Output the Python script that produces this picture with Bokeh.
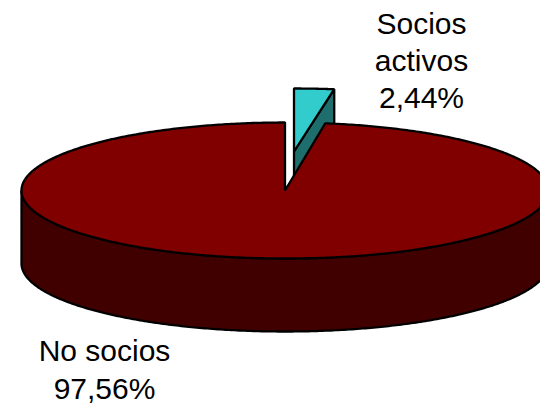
import numpy as np
from bokeh.embed import file_html
from bokeh.models import ColumnDataSource, Range1d
from bokeh.plotting import figure
from bokeh.resources import INLINE
from bokeh.core.properties import value

categories = ["Socios activos", "No socios"]
shares = [2.44, 97.56]
label_lines = [["Socios", "activos", "2,44%"], ["No socios", "97,56%"]]
label_x = [421, 104]
label_y = [[23, 60, 97], [350, 388]]

top_colors = ["#33CCCC", "#800000"]
side_colors = ["#1F6E6E", "#400000"]

CX, CY = 284.5, 190.0
RX, RY = 263.5, 68.0
DEPTH = 73.0
EXPL_CX, EXPL_CY, EXPL_RY = 293.5, 151.0, 63.0

sweep = 2 * np.pi * shares[0] / sum(shares)

p = figure(width=540, height=405, output_backend="svg", toolbar_location=None,
           x_range=Range1d(0, 540), y_range=Range1d(405, 0),
           min_border=0, outline_line_color=None, background_fill_color="white")
p.axis.visible = False
p.grid.visible = False
LW = 2.3


def top_face(cx, cy, ry, t0, t1, n=240):
    t = np.linspace(t0, t1, n)
    xs = np.concatenate([[cx], cx + RX * np.sin(t)])
    ys = np.concatenate([[cy], cy - ry * np.cos(t)])
    return xs, ys


# small exploded slice: cut face, then top
fx, fy = top_face(EXPL_CX, EXPL_CY, EXPL_RY, 0, sweep)
cut_x = [EXPL_CX, fx[-1], fx[-1], EXPL_CX]
cut_y = [EXPL_CY, fy[-1], fy[-1] + DEPTH, EXPL_CY + DEPTH]
p.patch(cut_x, cut_y, fill_color=side_colors[0], line_color="black", line_width=LW)
p.patch(fx, fy, fill_color=top_colors[0], line_color="black", line_width=LW)

# main slice: front wall, then top
t = np.linspace(np.pi / 2, 3 * np.pi / 2, 300)
wx = CX + RX * np.sin(t)
wy = CY - RY * np.cos(t)
p.patch(np.concatenate([wx, wx[::-1]]), np.concatenate([wy, wy[::-1] + DEPTH]),
        fill_color=side_colors[1], line_color="black", line_width=LW)
mx, my = top_face(CX, CY, RY, sweep, 2 * np.pi, 600)
p.patch(mx, my, fill_color=top_colors[1], line_color="black", line_width=LW)

for lines, x, ys in zip(label_lines, label_x, label_y):
    src = ColumnDataSource(dict(x=[x] * len(lines), y=ys, t=lines))
    p.text("x", "y", text="t", source=src, text_align="center",
           text_baseline="alphabetic", text_color="black",
           text_font=value("Liberation Sans"), text_font_size="30px")

open("out.html", "w").write(file_html(p, INLINE))
